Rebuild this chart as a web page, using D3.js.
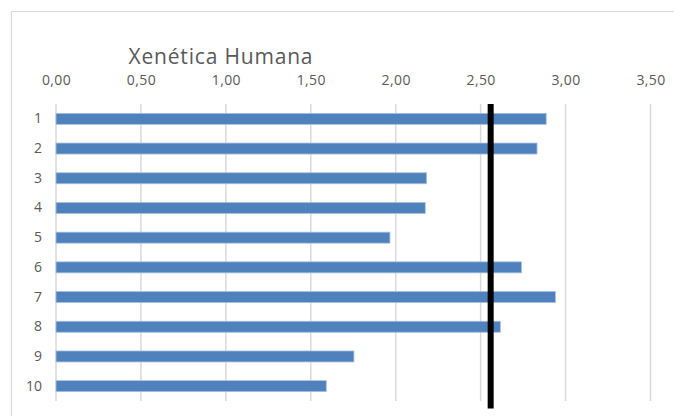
<!DOCTYPE html>
<html>
<head>
<meta charset="utf-8">
<script src="https://cdn.jsdelivr.net/npm/d3@7"></script>
<style>
  html, body { margin: 0; padding: 0; background: #fff; }
  svg { display: block; }
  text { font-family: "Open Sans", sans-serif; fill: #595959; }
</style>
</head>
<body>
<svg id="chart" width="674" height="416"></svg>
<script>
const title = "Xenética Humana";
const categories = ["1", "2", "3", "4", "5", "6", "7", "8", "9", "10"];
const values = [2.886, 2.832, 2.182, 2.174, 1.966, 2.74, 2.94, 2.616, 1.754, 1.591];
const referenceValue = 2.559;
const xTicks = [0, 0.5, 1, 1.5, 2, 2.5, 3, 3.5];
const xDomain = [0, 3.5];

const svg = d3.select("#chart");

// chart area border (top and left visible)
svg.append("path")
  .attr("d", "M11.5,416 V11.5 H674")
  .attr("fill", "none")
  .attr("stroke", "#d9d9d9")
  .attr("stroke-width", 1.2);

const x = d3.scaleLinear().domain(xDomain).range([56, 650.5]);
const y = d3.scaleBand().domain(categories).range([104, 401])
  .paddingInner(0.63).paddingOuter(0.315);

const fmt = v => d3.format(".2f")(v).replace(".", ",");

// gridlines
svg.append("g").selectAll("line").data(xTicks).join("line")
  .attr("x1", d => x(d)).attr("x2", d => x(d))
  .attr("y1", 104).attr("y2", 401)
  .attr("stroke", "#d9d9d9").attr("stroke-width", 1.5);

// top axis labels
const xAxis = d3.axisTop(x).tickValues(xTicks).tickFormat(fmt).tickSize(0).tickPadding(0);
const gx = svg.append("g").attr("transform", "translate(0,85)").call(xAxis);
gx.select(".domain").remove();
gx.selectAll("text")
  .attr("font-family", "Open Sans, sans-serif")
  .attr("font-size", 14)
  .attr("fill", "#595959")
  .attr("dy", 0)
  .style("letter-spacing", "0.4px");

// left axis labels
const yAxis = d3.axisLeft(y).tickSize(0).tickPadding(0);
const gy = svg.append("g").attr("transform", "translate(42,0)").call(yAxis);
gy.select(".domain").remove();
gy.selectAll("text")
  .attr("font-family", "Open Sans, sans-serif")
  .attr("font-size", 14)
  .attr("fill", "#595959");

// bars
svg.append("g").selectAll("rect").data(values).join("rect")
  .attr("x", x(0))
  .attr("y", (d, i) => y(categories[i]))
  .attr("width", d => x(d) - x(0))
  .attr("height", y.bandwidth())
  .attr("fill", "#4f81bd")
  .attr("stroke", "#a7c0e2")
  .attr("stroke-width", 0.8);

// reference line
svg.append("line")
  .attr("x1", x(referenceValue)).attr("x2", x(referenceValue))
  .attr("y1", 104).attr("y2", 408.5)
  .attr("stroke", "#000").attr("stroke-width", 6);

// title
svg.append("text")
  .attr("x", 128.5).attr("y", 64)
  .attr("font-size", 21)
  .attr("textLength", 184)
  .attr("lengthAdjust", "spacing")
  .text(title);
</script>
</body>
</html>
